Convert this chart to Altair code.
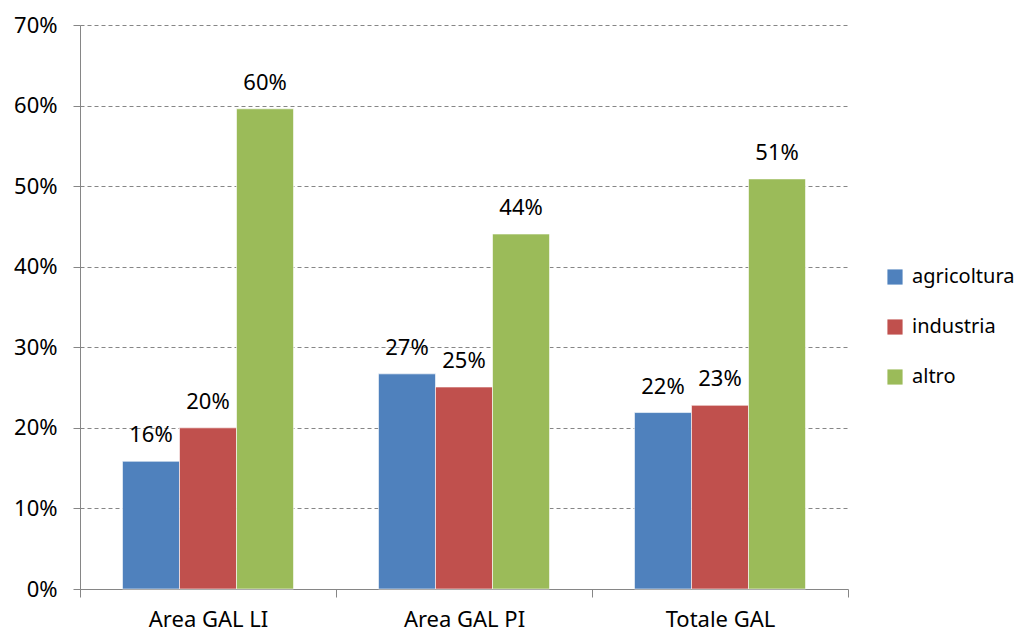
import altair as alt
import pandas as pd

categories = ["Area GAL LI", "Area GAL PI", "Totale GAL"]
series = ["agricoltura", "industria", "altro"]
agricoltura = [0.1585, 0.267, 0.219]
industria = [0.200, 0.2507, 0.228]
altro = [0.596, 0.4406, 0.509]
colors = ["#4F81BD", "#C0504D", "#9BBB59"]

rows = []
for s, vals in zip(series, [agricoltura, industria, altro]):
    for c, v in zip(categories, vals):
        rows.append({"cat": c, "serie": s, "val": v})
df = pd.DataFrame(rows)

FONT = "Noto Sans"
GRAY = "#868686"
FS = 22

x = alt.X("cat:N", sort=categories, title=None,
          scale=alt.Scale(paddingInner=0, paddingOuter=0),
          axis=alt.Axis(labelAngle=0, tickBand="extent", domainColor=GRAY, tickColor=GRAY,
                        tickSize=8, labelFont=FONT, labelFontSize=FS, labelColor="#000000",
                        labelPadding=12, grid=False))
xo = alt.XOffset("serie:N", sort=series, scale=alt.Scale(paddingInner=0, paddingOuter=0.745))
y = alt.Y("val:Q", title=None,
          scale=alt.Scale(domain=[0, 0.7], nice=False),
          axis=alt.Axis(values=[0, 0.1, 0.2, 0.3, 0.4, 0.5, 0.6, 0.7], format=".0%",
                        domainColor=GRAY, tickColor=GRAY, tickSize=7, gridColor=GRAY,
                        gridDash=[4, 3], gridWidth=1, labelFont=FONT, labelFontSize=FS,
                        labelColor="#000000", labelPadding=16))

bars = alt.Chart(df).mark_bar(stroke="white", strokeWidth=0.6).encode(
    x=x, xOffset=xo, y=y,
    color=alt.Color("serie:N", sort=series,
                    scale=alt.Scale(domain=series, range=colors),
                    legend=alt.Legend(title=None, orient="none", legendX=805, legendY=242,
                                      symbolType="square", symbolSize=230, symbolStrokeWidth=0,
                                      labelFont=FONT, labelFontSize=20, labelColor="#000000",
                                      rowPadding=30, labelOffset=7)),
)
labels = alt.Chart(df).mark_text(baseline="bottom", dy=-14, font=FONT, fontSize=FS, color="#000000").encode(
    x=x, xOffset=xo, y=y,
    text=alt.Text("val:Q", format=".0%"),
)

chart = (bars + labels).properties(
    width=768, height=564,
    autosize=alt.AutoSizeParams(type="none"),
    padding={"left": 72, "top": 17, "right": 175, "bottom": 45},
    background="white",
).configure_view(stroke=None)

chart.save("out.html", embed_options={"renderer": "svg", "actions": False})
